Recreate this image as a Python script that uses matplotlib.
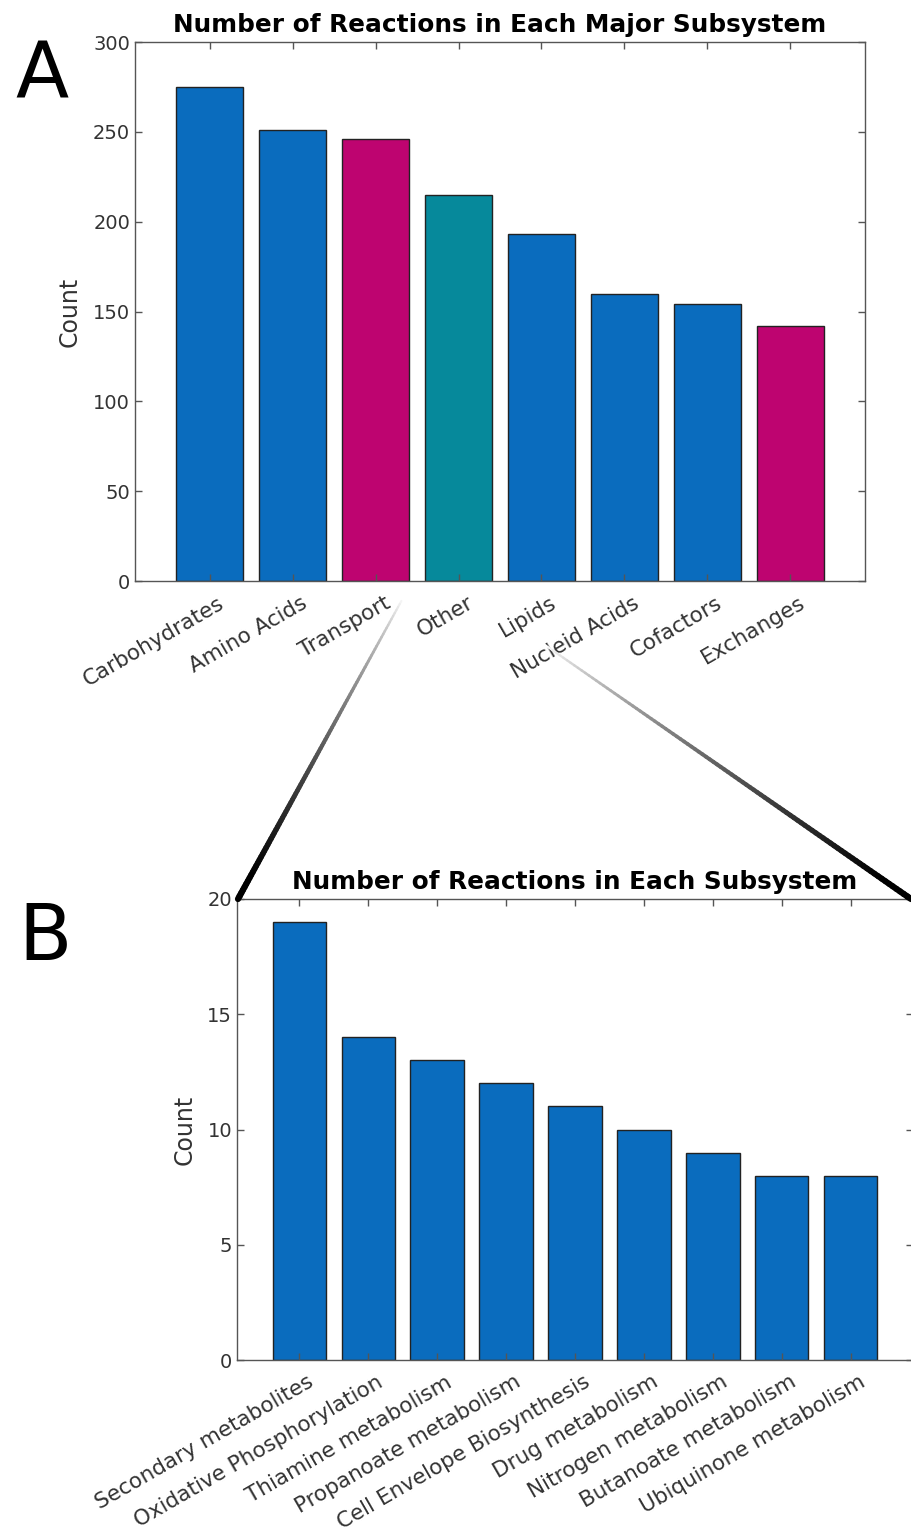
import numpy as np
import matplotlib
matplotlib.use('Agg')
import matplotlib.pyplot as plt
import matplotlib.transforms as mtrans
from matplotlib.collections import LineCollection

major_names = ['Carbohydrates', 'Amino Acids', 'Transport', 'Other', 'Lipids',
               'Nucleid Acids', 'Cofactors', 'Exchanges']
major_counts = [275, 251, 246, 215, 193, 160, 154, 142]
major_group = ['met', 'met', 'trans', 'other', 'met', 'met', 'met', 'trans']

sub_names = ['Secondary metabolites', 'Oxidative Phosphorylation', 'Thiamine metabolism',
             'Propanoate metabolism', 'Cell Envelope Biosynthesis', 'Drug metabolism',
             'Nitrogen metabolism', 'Butanoate metabolism', 'Ubiquinone metabolism']
sub_counts = [19, 14, 13, 12, 11, 10, 9, 8, 8]

COLORS = {'met': '#0A6CBE', 'trans': '#BE0470', 'other': '#06899B'}
TXT = '#333333'

W, H = 911, 1538
fig = plt.figure(figsize=(W / 100, H / 100), dpi=100)


def box(l, t, r, b):
    return [l / W, 1 - b / H, (r - l) / W, (b - t) / H]


def style(ax, names, ymax, step, title):
    n = len(names)
    ax.set_xlim(0.1, n + 0.9)
    ax.set_ylim(0, ymax)
    ax.set_yticks(np.arange(0, ymax + 1, step))
    ax.tick_params(direction='in', top=True, right=True, length=5, width=1,
                   color='#555555', labelcolor=TXT, labelsize=14)
    for s in ax.spines.values():
        s.set_color('#555555')
        s.set_linewidth(1)
    ax.set_ylabel('Count', fontsize=17, color=TXT, labelpad=8)
    ax.set_xticks(np.arange(1, n + 1))
    ax.set_xticklabels(names, rotation=30, ha='right', rotation_mode='anchor',
                       fontsize=15.5)
    shift = mtrans.ScaledTranslation(8 / 100, -7 / 100, fig.dpi_scale_trans)
    for lab in ax.get_xticklabels():
        lab.set_transform(lab.get_transform() + shift)
    ax.set_title(title, fontsize=17.8, fontweight='bold', pad=7)


# panel A
ax1 = fig.add_axes(box(135, 42, 865, 581))
x1 = np.arange(1, len(major_counts) + 1)
ax1.bar(x1, major_counts, width=0.8, color=[COLORS[g] for g in major_group],
        edgecolor='#222222', linewidth=1)
style(ax1, major_names, 300, 50, 'Number of Reactions in Each Major Subsystem')

# panel B
ax2 = fig.add_axes(box(237, 899, 913, 1360))
x2 = np.arange(1, len(sub_counts) + 1)
ax2.bar(x2, sub_counts, width=0.77, color=COLORS['met'], edgecolor='#222222',
        linewidth=1)
style(ax2, sub_names, 20, 5, 'Number of Reactions in Each Subsystem')

fig.text(15 / W, 1 - 99 / H, 'A', fontsize=56, ha='left', va='baseline')
fig.text(18 / W, 1 - 960 / H, 'B', fontsize=56, ha='left', va='baseline')


# zoom connector lines, light at the top and black at the bottom
def fade_line(p0, p1, n=100):
    xs = np.linspace(p0[0], p1[0], n + 1) / W
    ys = 1 - np.linspace(p0[1], p1[1], n + 1) / H
    segs = [[(xs[i], ys[i]), (xs[i + 1], ys[i + 1])] for i in range(n)]
    t = np.linspace(0, 1, n)
    cols = [(1 - v, 1 - v, 1 - v) for v in np.clip(t ** 0.7 * 1.05, 0, 1)]
    lws = 1.5 + 3.0 * t
    lc = LineCollection(segs, colors=cols, linewidths=lws,
                        transform=fig.transFigure, capstyle='round')
    fig.add_artist(lc)


fade_line((403, 598), (238, 899))
fade_line((545, 645), (911, 899))

fig.savefig('out.png', dpi=100)
